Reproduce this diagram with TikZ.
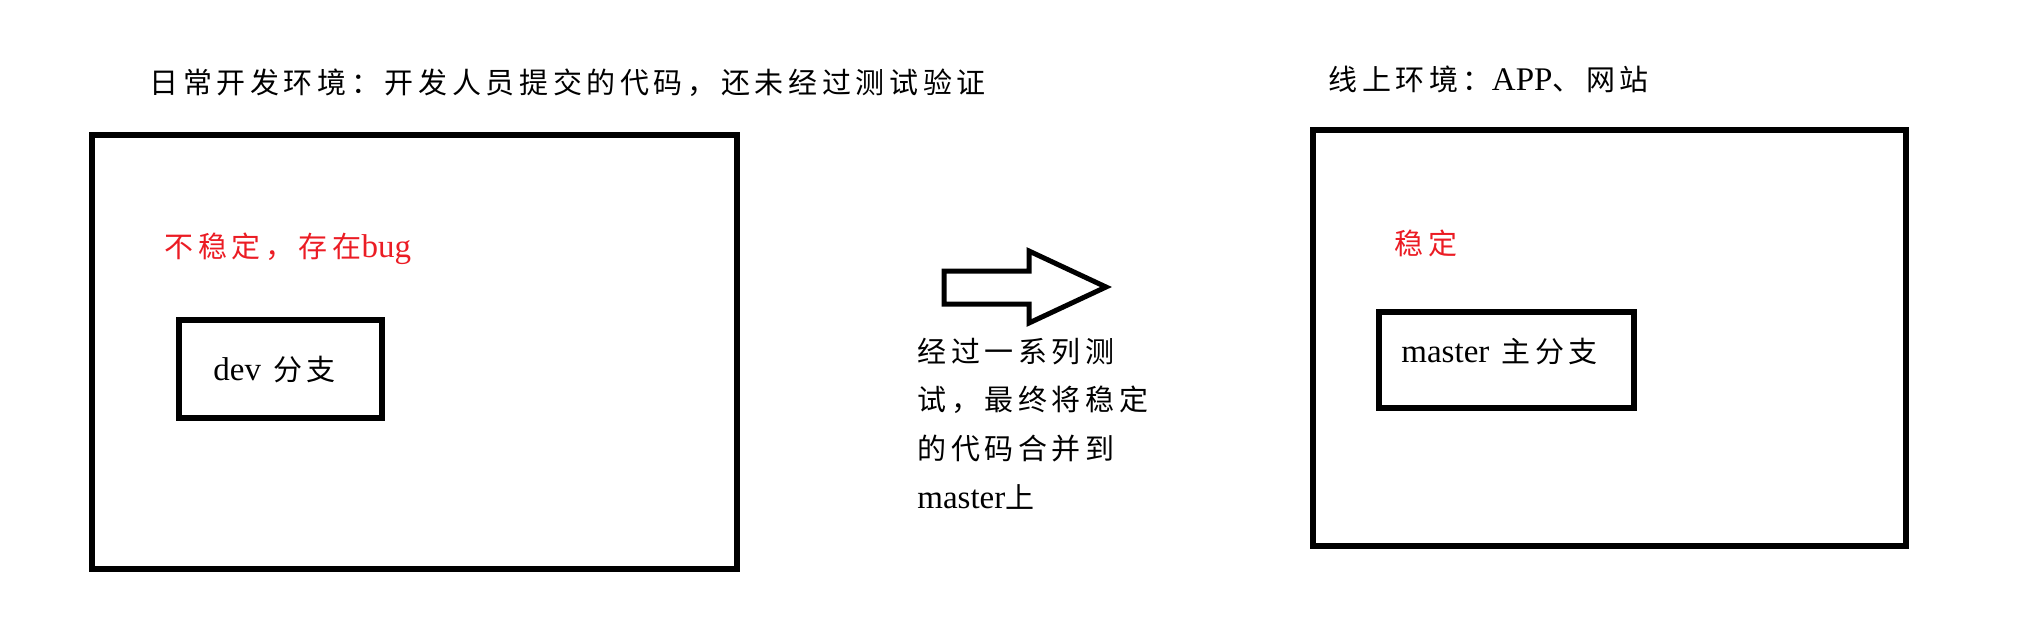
\documentclass[tikz,border=0pt]{standalone}
\usepackage{fontspec}
\setmainfont{Liberation Serif}
\newfontfamily\cjfam[LetterSpace=16]{Noto Sans CJK SC}
\newcommand\cj{\cjfam\fontsize{14.5pt}{18pt}\selectfont}
\definecolor{warnred}{RGB}{235,28,36}
\begin{document}
\begin{tikzpicture}[x=0.5pt,y=-0.5pt,
  bigbox/.style={draw=black,line width=3pt,inner sep=0pt},
  lbl/.style={anchor=west,inner sep=0pt,font=\fontsize{16.5pt}{18pt}\selectfont},
  redlbl/.style={lbl,text=warnred}]
\useasboundingbox (0,0) rectangle (2035,633);
% left environment
\node[bigbox,minimum width=645*0.5pt,minimum height=434*0.5pt] (devenv) at (414.5,352) {};
\node[lbl] (devtitle) at (149,83) {{\cj 日常开发环境：开发人员提交的代码，还未经过测试验证}};
\node[redlbl] (unstable) at (164,249) {{\cj 不稳定，存在}bug};
\node[bigbox,minimum width=203*0.5pt,minimum height=98*0.5pt] (devbox) at (280.5,369) {};
\node[lbl] (devtext) at (213,370) {dev\hspace{6pt}{\cj 分支}};
% right environment
\node[bigbox,minimum width=593.5*0.5pt,minimum height=416*0.5pt] (prodenv) at (1609.25,338) {};
\node[lbl] (prodtitle) at (1328,79) {{\cj 线上环境：}APP{\cj 、网站}};
\node[redlbl] (stable) at (1394,243) {{\cj 稳定}};
\node[bigbox,minimum width=255.5*0.5pt,minimum height=96*0.5pt] (masterbox) at (1506.25,360) {};
\node[lbl] (mastertext) at (1401,352) {master\hspace{6pt}{\cj 主分支}};
% block arrow
\draw[line width=2.5pt,line join=miter] (944,271) -- (1029,271) -- (1029,251) -- (1106,287) -- (1029,323) -- (1029,304) -- (944,304) -- cycle;
\node[lbl] (step1) at (917,352) {{\cj 经过一系列测}};
\node[lbl] (step2) at (917,400) {{\cj 试，最终将稳定}};
\node[lbl] (step3) at (917,449) {{\cj 的代码合并到}};
\node[lbl] (step4) at (917,497) {master{\cj 上}};
\end{tikzpicture}
\end{document}
